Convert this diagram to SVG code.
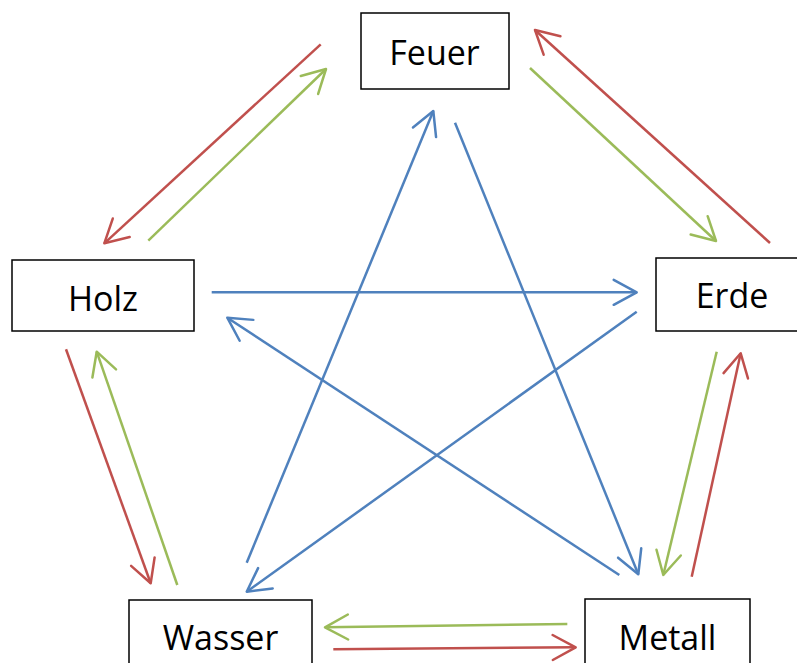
<svg xmlns="http://www.w3.org/2000/svg" width="797" height="663" viewBox="0 0 797 663">
<style>
.box{fill:#fff;stroke:#000;stroke-width:1.5}
.lbl{font-family:"Open Sans","Liberation Sans",sans-serif;font-size:34px;fill:#000;text-anchor:middle}
.r{stroke:#c0504d;stroke-width:2.5;fill:none;marker-end:url(#mr)}
.g{stroke:#9bbb59;stroke-width:2.5;fill:none;marker-end:url(#mg)}
.b{stroke:#4f81bd;stroke-width:2.5;fill:none;marker-end:url(#mb)}
</style>
<defs>
<marker id="mr" markerUnits="userSpaceOnUse" orient="auto" markerWidth="30" markerHeight="30" refX="0" refY="0" viewBox="-26 -15 30 30" overflow="visible"><path d="M-23,-12.5 L0,0 L-23,12.5" fill="none" stroke="#c0504d" stroke-width="2.5" stroke-linecap="round" stroke-linejoin="round"/></marker>
<marker id="mg" markerUnits="userSpaceOnUse" orient="auto" markerWidth="30" markerHeight="30" refX="0" refY="0" viewBox="-26 -15 30 30" overflow="visible"><path d="M-23,-12.5 L0,0 L-23,12.5" fill="none" stroke="#9bbb59" stroke-width="2.5" stroke-linecap="round" stroke-linejoin="round"/></marker>
<marker id="mb" markerUnits="userSpaceOnUse" orient="auto" markerWidth="30" markerHeight="30" refX="0" refY="0" viewBox="-26 -15 30 30" overflow="visible"><path d="M-23,-12.5 L0,0 L-23,12.5" fill="none" stroke="#4f81bd" stroke-width="2.5" stroke-linecap="round" stroke-linejoin="round"/></marker>
</defs>
<rect width="797" height="663" fill="#fff"/>
<g id="connectors">
<line class="r" x1="320.7" y1="44.3" x2="104.3" y2="243.3"/>
<line class="g" x1="148.3" y1="240.7" x2="326" y2="69"/>
<line class="g" x1="530" y1="68" x2="716" y2="241"/>
<line class="r" x1="770" y1="243" x2="535" y2="30"/>
<line class="g" x1="716.7" y1="351.7" x2="663.3" y2="575"/>
<line class="r" x1="691.7" y1="576.7" x2="740.7" y2="353.3"/>
<line class="g" x1="567.3" y1="624" x2="325" y2="627.3"/>
<line class="r" x1="333.3" y1="649.3" x2="575.7" y2="647.3"/>
<line class="r" x1="66" y1="349.3" x2="150.7" y2="583.3"/>
<line class="g" x1="177.3" y1="585" x2="96.7" y2="351.7"/>
<line class="b" x1="211.7" y1="292.3" x2="636.7" y2="292.3"/>
<line class="b" x1="636.7" y1="311.7" x2="246.7" y2="591.7"/>
<line class="b" x1="246.7" y1="562.7" x2="433.3" y2="111"/>
<line class="b" x1="455" y1="122.7" x2="638.3" y2="574.3"/>
<line class="b" x1="619.3" y1="575" x2="227.3" y2="317.7"/>
</g>
<g id="feuer"><rect class="box" x="361" y="13" width="148" height="76"/><text class="lbl" x="434.5" y="65">Feuer</text></g>
<g id="holz"><rect class="box" x="12" y="260" width="182" height="71"/><text class="lbl" x="103" y="311">Holz</text></g>
<g id="erde"><rect class="box" x="656" y="258" width="152" height="73"/><text class="lbl" x="732" y="308">Erde</text></g>
<g id="wasser"><rect class="box" x="129" y="600" width="183" height="80"/><text class="lbl" x="220.5" y="650">Wasser</text></g>
<g id="metall"><rect class="box" x="585" y="599" width="165" height="80"/><text class="lbl" x="667.5" y="650">Metall</text></g>
</svg>
